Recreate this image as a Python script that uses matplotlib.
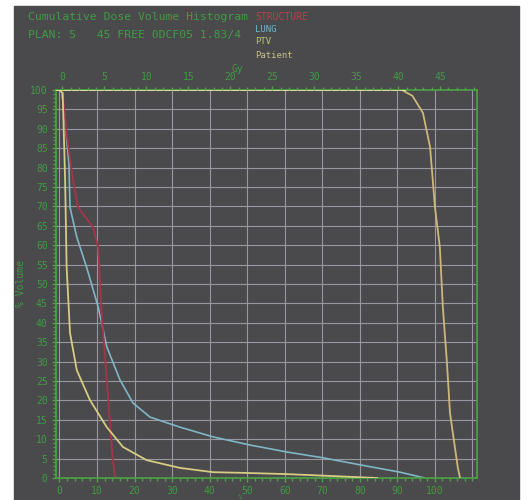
import matplotlib
matplotlib.use("Agg")
import matplotlib.pyplot as plt
from matplotlib.patches import Rectangle
from matplotlib.ticker import MultipleLocator

# DVH curves, dose in % of prescription, volume in %
ptv_dose = [0, 91.2, 94.0, 96.8, 98.7, 100.0, 101.3, 102.1, 103.2, 104.0, 105.3, 106.1, 106.7]
ptv_vol = [100, 100, 98.5, 94.1, 85.3, 69.8, 59.5, 44.1, 29.6, 16.8, 8.0, 2.6, 0]

pat_dose = [0.0, 0.85, 1.5, 1.9, 2.8, 4.6, 8.1, 12.6, 16.9, 23.2, 32.1, 40.9, 49.9, 60.6, 72.8, 84.6]
pat_vol = [100, 99.2, 76.8, 54.4, 37.4, 27.8, 20.1, 13.1, 8.0, 4.6, 2.6, 1.5, 1.3, 1.0, 0.5, 0]

lung_dose = [0.5, 1.2, 2.5, 2.8, 4.6, 7.2, 10.3, 12.6, 16.1, 19.6, 24.1, 32.1, 40.9, 50.7,
             60.6, 70.2, 80.0, 90.7, 97.3]
lung_vol = [100, 95, 81.2, 69.8, 62.1, 54.4, 44.1, 33.8, 25.3, 19.3, 15.7, 13.1, 10.6, 8.5,
            6.7, 5.2, 3.4, 1.5, 0]

cord_dose = [0.7, 2.0, 3.6, 4.9, 8.9, 10.3, 11.2, 12.6, 13.4, 14.2, 14.8]
cord_vol = [100, 88.0, 76.8, 69.8, 64.7, 59.5, 42.5, 25.3, 14.9, 4.6, 0]

pct_ticks = [0, 10, 20, 30, 40, 50, 60, 70, 80, 90, 100]
gy_ticks = [0, 5, 10, 15, 20, 25, 30, 35, 40, 45]
vol_ticks = list(range(0, 101, 5))

BG = "#4a494c"
GREEN = "#4ca444"
TXT = "#3f9c44"
GRID = "#9896a0"
MONO = "DejaVu Sans Mono"

W, H = 528, 500
fig = plt.figure(figsize=(W / 100, H / 100), dpi=100, facecolor="white")
fig.patches.append(Rectangle((14 / W, 0), (519 - 14) / W, (500 - 6) / H,
                             transform=fig.transFigure, color=BG, zorder=-10))

ax = fig.add_axes([56 / W, 1 - 478 / H, (477 - 56) / W, (478 - 90) / H])
ax.set_facecolor(BG)
ax.set_xlim(-0.93, 111.2)
ax.set_ylim(0, 100)

for x in range(0, 111, 10):
    ax.axvline(x, color=GRID, lw=0.8, zorder=1)
for y in vol_ticks[1:-1]:
    ax.axhline(y, color=GRID, lw=0.8, zorder=1)

ax.plot(ptv_dose, ptv_vol, color="#cdb877", lw=1.3, zorder=3)
ax.plot(pat_dose, pat_vol, color="#d6cc82", lw=1.3, zorder=3)
ax.plot(lung_dose, lung_vol, color="#7fb7c6", lw=1.2, zorder=2)
ax.plot(cord_dose, cord_vol, color="#a2354a", lw=1.4, zorder=2)
ax.axhline(100, xmin=0, xmax=0.83, color="#dcdca8", lw=1.4, zorder=4)

for s in ax.spines.values():
    s.set_color(GREEN)
    s.set_linewidth(1.2)

ax.set_xticks(pct_ticks)
ax.set_xticklabels([str(t) for t in pct_ticks], fontfamily=MONO)
ax.set_yticks(vol_ticks)
ax.set_yticklabels([str(t) for t in vol_ticks], fontfamily=MONO)
ax.xaxis.set_minor_locator(MultipleLocator(2))
ax.yaxis.set_minor_locator(MultipleLocator(1))
ax.tick_params(colors=GREEN, labelcolor=TXT, labelsize=7, length=3, width=1, pad=3)
ax.tick_params(which="minor", colors=GREEN, length=2, width=1)
ax.set_ylabel("% Volume", color=TXT, fontsize=7, fontfamily=MONO, labelpad=3)

top = ax.twiny()
top.set_xlim(-0.77, 49.4)
top.set_xticks(gy_ticks)
top.set_xticklabels([str(t) for t in gy_ticks], fontfamily=MONO)
top.xaxis.set_minor_locator(MultipleLocator(1))
top.tick_params(colors=GREEN, labelcolor=TXT, labelsize=7, length=3, width=1, pad=3)
top.tick_params(which="minor", colors=GREEN, length=2, width=1)
for s in top.spines.values():
    s.set_visible(False)

def ftext(x, y, s, color, size=8.2):
    fig.text(x / W, 1 - y / H, s, color=color, fontsize=size, fontfamily=MONO,
             va="center", ha="left")

ftext(28, 17, "Cumulative Dose Volume Histogram", TXT)
ftext(255, 17, "STRUCTURE", "#b8404c", 7)
ftext(28, 35, "PLAN: 5   45 FREE 0DCF05 1.83/4", TXT)
ftext(255, 30, "LUNG", "#6fb8c8", 6.5)
ftext(255, 42, "PTV", "#b8c870", 6.5)
ftext(255, 55, "Patient", "#c8c088", 6.5)
ftext(232, 69, "Gy", TXT, 7)
ftext(238, 497, "%", TXT, 5)

fig.savefig("out.png", dpi=100, facecolor="white")
